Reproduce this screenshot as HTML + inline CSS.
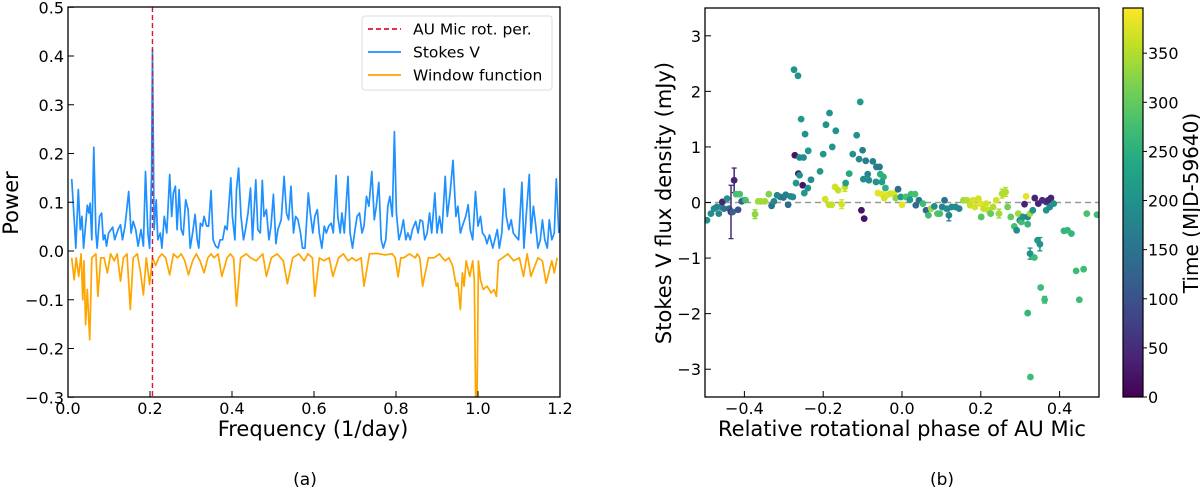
<!DOCTYPE html>
<html><head><meta charset="utf-8"><style>
body{margin:0;background:#fff;}
svg text{font-family:"DejaVu Sans","Liberation Sans",sans-serif;fill:#000;}
</style></head><body>
<svg id="fig" width="1200" height="490" viewBox="0 0 1200 490" xmlns="http://www.w3.org/2000/svg">
<defs>
<clipPath id="clipA"><rect x="68" y="7" width="492" height="390"/></clipPath>
<clipPath id="clipB"><rect x="705" y="8" width="394" height="389"/></clipPath>
<linearGradient id="viridis" x1="0" y1="1" x2="0" y2="0">
<stop offset="0" stop-color="#440154"/><stop offset="0.1" stop-color="#482475"/><stop offset="0.2" stop-color="#414487"/><stop offset="0.3" stop-color="#355f8d"/><stop offset="0.4" stop-color="#2a788e"/><stop offset="0.5" stop-color="#21918c"/><stop offset="0.6" stop-color="#22a884"/><stop offset="0.7" stop-color="#44bf70"/><stop offset="0.8" stop-color="#7ad151"/><stop offset="0.9" stop-color="#bddf26"/><stop offset="1" stop-color="#fde725"/>
</linearGradient>
</defs>
<g id="panelA"></g>
<g id="panelB"></g>
</svg>
<script>
// ---------- Panel (a) data ----------
const stokesFreq = [.009,.015,.019,.025,.030,.034,.038,.047,.051,.054,.058,.063,.068,.071,.077,.082,.086,.090,.094,.099,.109,.114,.122,.128,.133,.139,.148,.154,.159,.165,.171,.178,.184,.189,.195,.199,.204,.206,.210,.215,.219,.225,.229,.235,.241,.248,.253,.257,.262,.266,.271,.276,.281,.287,.293,.298,.304,.310,.315,.319,.323,.328,.332,.338,.343,.349,.354,.360,.366,.371,.377,.383,.388,.397,.401,.407,.411,.416,.422,.428,.433,.439,.445,.450,.458,.463,.469,.474,.478,.484,.490,.495,.501,.507,.512,.520,.527,.533,.538,.544,.550,.555,.561,.567,.572,.578,.586,.591,.597,.602,.608,.613,.619,.625,.630,.636,.642,.647,.654,.658,.664,.668,.674,.683,.688,.694,.700,.705,.711,.717,.722,.728,.734,.741,.747,.752,.758,.764,.769,.775,.780,.785,.791,.796,.801,.807,.812,.818,.824,.829,.835,.840,.848,.854,.859,.865,.870,.876,.882,.887,.895,.900,.906,.912,.920,.925,.932,.939,.946,.951,.957,.962,.970,.976,.981,.987,.994,1.000,1.006,1.011,1.017,1.022,1.028,1.036,1.041,1.047,1.052,1.058,1.064,1.069,1.075,1.081,1.086,1.092,1.099,1.107,1.112,1.118,1.125,1.129,1.135,1.141,1.146,1.152,1.157,1.163,1.169,1.174,1.180,1.186,1.191,1.197];
const stokesPower = [.148,.064,.006,.126,.044,.071,.006,.094,.078,.098,.023,.213,.037,.006,.071,.078,.023,.033,.010,.037,.049,.023,.044,.054,.023,.051,.122,.037,.061,.044,.010,.044,.010,.163,.037,.006,.160,.413,.044,.105,.023,.037,.006,.071,.037,.157,.071,.119,.133,.044,.126,.044,.033,.105,.085,.006,.037,.075,.023,.006,.057,.051,.071,.051,.051,.124,.023,.010,.006,.023,.023,.051,.044,.150,.071,.023,.126,.170,.071,.023,.044,.078,.129,.023,.146,.044,.037,.145,.071,.085,.023,.051,.116,.015,.044,.064,.153,.078,.064,.133,.037,.071,.064,.037,.006,.006,.119,.078,.037,.071,.085,.037,.006,.051,.037,.051,.057,.037,.155,.071,.037,.078,.037,.153,.037,.006,.044,.071,.078,.037,.051,.112,.092,.163,.064,.092,.141,.023,.006,.023,.092,.112,.071,.245,.078,.023,.037,.064,.023,.037,.023,.044,.061,.037,.064,.061,.023,.037,.078,.037,.119,.037,.071,.037,.153,.071,.119,.186,.071,.092,.037,.051,.071,.095,.044,.023,.122,.051,.071,.037,.030,.015,.033,.006,.023,.044,.006,.037,.128,.071,.044,.064,.037,.030,.023,.141,.006,.078,.157,.037,.092,.051,.006,.023,.064,.023,.006,.064,.023,.037,.148,.037];
const windowFreq = [.009,.015,.020,.026,.032,.036,.039,.043,.047,.053,.058,.068,.073,.080,.088,.096,.104,.113,.120,.128,.135,.144,.152,.159,.169,.177,.184,.191,.199,.206,.214,.221,.229,.238,.248,.257,.267,.276,.285,.294,.304,.313,.322,.332,.341,.349,.356,.366,.375,.388,.396,.404,.411,.421,.435,.445,.459,.475,.484,.496,.510,.525,.535,.548,.563,.576,.585,.596,.602,.613,.624,.637,.646,.660,.672,.683,.693,.703,.715,.722,.735,.754,.773,.791,.798,.805,.812,.819,.833,.847,.852,.858,.865,.879,.893,.906,.913,.920,.929,.938,.947,.951,.957,.962,.966,.971,.980,.987,.991,.996,1.001,1.006,1.013,1.022,1.032,1.039,1.045,1.050,1.060,1.073,1.087,1.101,1.111,1.120,1.129,1.146,1.157,1.166,1.180,1.186,1.193,1.197];
const windowPower = [-.014,-.059,-.014,-.052,-.006,-.100,-.020,-.151,-.079,-.182,-.014,-.006,-.093,-.014,-.014,-.045,-.006,-.020,-.006,-.062,-.014,-.006,-.120,-.014,-.006,-.045,-.090,-.014,-.069,-.014,-.030,-.014,-.006,-.014,-.049,-.006,-.014,-.006,-.020,-.049,-.020,-.006,-.020,-.045,-.014,-.006,-.014,-.006,-.052,-.014,-.006,-.014,-.113,-.014,-.006,-.014,-.020,-.006,-.052,-.014,-.006,-.020,-.067,-.014,-.006,-.020,-.006,-.014,-.093,-.014,-.020,-.014,-.052,-.014,-.006,-.020,-.014,-.020,-.014,-.072,-.006,-.005,-.008,-.006,-.014,-.053,-.014,-.014,-.006,-.014,-.006,-.014,-.072,-.014,-.014,-.006,-.014,-.020,-.014,-.030,-.072,-.066,-.120,-.045,-.072,-.020,-.052,-.020,-.059,-.440,-.020,-.059,-.079,-.072,-.086,-.079,-.093,-.020,-.014,-.006,-.020,-.014,-.052,-.006,-.052,-.014,-.020,-.066,-.020,-.045,-.014];
const rotFreq = 0.206;
const aXTicks = [0.0,0.2,0.4,0.6,0.8,1.0,1.2];
const aYTicks = [0.5,0.4,0.3,0.2,0.1,0.0,-0.1,-0.2,-0.3];
const aYTickLabels = ["0.5","0.4","0.3","0.2","0.1","0.0","\u22120.1","\u22120.2","\u22120.3"];

// ---------- Panel (b) data ----------
const phase = [-.495,-.485,-.477,-.470,-.465,-.459,-.456,-.452,-.444,-.439,-.434,-.426,-.430,-.416,-.421,-.412,-.402,-.407,-.397,-.373,-.365,-.358,-.348,-.338,-.331,-.325,-.317,-.309,-.301,-.295,-.289,-.283,-.277,
-.274,-.264,-.256,-.246,-.238,-.272,-.260,-.250,-.263,-.252,-.269,-.260,-.248,-.239,-.231,-.208,-.200,-.193,-.184,-.177,-.168,-.195,-.185,-.178,-.170,-.162,-.153,-.145,-.143,-.134,-.125,-.115,-.106,-.109,-.103,-.096,-.100,-.092,-.098,-.087,-.084,-.074,-.065,-.057,-.066,-.055,-.047,-.051,-.042,-.061,-.051,-.039,-.045,-.029,-.020,-.010,-.016,-.003,
.000,.010,.023,.033,.020,.035,.043,.053,.061,.067,.074,.082,.090,.096,.102,.108,.113,.119,.126,.136,.145,.156,.165,.173,.180,.185,.194,.199,.201,.207,.214,.219,.225,.231,.239,.246,.254,.263,.268,.276,.285,.291,.295,.299,.303,.307,.315,.311,.319,.325,.319,.325,.319,.326,.336,.344,.350,.352,.362,.337,.332,.346,.356,.366,.371,.378,.366,.375,.385,.411,.420,.430,.442,.450,.461,.469,.495];
const flux = [-.32,-.20,-.11,-.08,-.20,-.08,.01,-.11,.07,-.11,-.17,.40,-.17,-.13,.15,.15,.04,.02,.04,-.21,.02,.02,.02,.15,-.06,.02,.13,.10,.09,.14,-.04,.11,.10,
2.39,2.28,1.50,1.23,.93,.85,.81,.81,.52,.31,.35,.49,.17,.26,.41,.56,.87,1.40,1.61,1.00,1.29,.06,-.04,-.04,.28,.22,-.03,.28,.35,.52,.87,1.21,1.81,.78,-.14,-.29,.94,.75,.42,.51,.40,.74,.64,.64,.37,.51,.46,.37,.26,.17,.15,.13,.08,.16,.16,.24,.08,.10,
-.04,.10,.15,.15,.05,-.05,.04,-.02,-.14,-.23,-.11,-.07,-.20,-.20,-.08,.04,-.11,-.23,-.08,-.08,-.11,.04,.04,-.05,.04,-.08,.07,-.02,-.26,-.11,-.02,-.14,-.20,-.08,.04,-.20,.16,.19,-.08,-.26,-.43,-.50,-.20,-.32,-.35,-.26,.11,-.03,-.26,-.20,-.39,-.92,-1.99,-3.14,-.99,-.68,-.75,-1.53,-1.75,.08,-.14,-.02,.04,.01,.04,.08,-.14,-.08,-.02,-.51,-.50,-.56,-1.23,-1.75,-1.20,-.20,-.22];
const timeMJD = [200,190,190,180,180,190,40,150,200,140,50,40,120,100,280,280,280,130,280,330,340,340,340,320,150,180,180,180,150,170,140,180,190,
200,200,210,200,210,20,190,190,30,20,210,200,210,200,190,210,210,200,200,210,200,370,360,360,370,360,370,360,220,240,200,200,210,190,20,20,170,170,190,180,190,170,170,160,200,250,250,220,250,380,380,380,370,370,375,140,330,220,
380,280,270,280,220,140,150,270,130,270,340,190,290,280,180,150,190,180,190,190,180,340,350,360,370,370,370,380,290,360,370,360,300,350,370,340,350,350,310,300,280,190,340,190,270,200,380,40,180,340,260,200,260,270,270,210,200,270,270,40,200,40,50,60,40,40,200,190,200,260,260,260,270,270,270,280,270];
const fluxErr = [.05,.05,.05,.05,.05,.05,.05,.05,.05,.05,.48,.22,.05,.05,.05,.05,.05,.05,.05,.08,.05,.05,.05,.05,.05,.05,.05,.05,.05,.05,.05,.05,.05,
.05,.05,.05,.05,.05,.05,.05,.05,.05,.05,.05,.05,.05,.05,.05,.05,.05,.05,.05,.05,.05,.05,.05,.05,.05,.05,.08,.08,.05,.05,.05,.05,.05,.05,.05,.05,.05,.05,.05,.05,.05,.05,.05,.05,.05,.05,.05,.05,.05,.05,.05,.05,.05,.05,.05,.05,.05,.05,
.05,.05,.05,.05,.05,.05,.05,.05,.05,.05,.05,.05,.05,.05,.05,.05,.05,.10,.05,.05,.05,.05,.05,.05,.05,.05,.05,.05,.05,.05,.05,.05,.05,.05,.05,.08,.08,.08,.05,.05,.05,.05,.05,.05,.05,.05,.05,.05,.05,.05,.05,.10,.05,.05,.05,.05,.12,.05,.06,.05,.05,.05,.05,.05,.05,.05,.05,.05,.05,.05,.05,.05,.05,.05,.05,.05,.05];
const bXTicks = [-0.4,-0.2,0.0,0.2,0.4];
const bXTickLabels = ["\u22120.4","\u22120.2","0.0","0.2","0.4"];
const bYTicks = [3,2,1,0,-1,-2,-3];
const bYTickLabels = ["3","2","1","0","\u22121","\u22122","\u22123"];
const cbTicks = [0,50,100,150,200,250,300,350];
const timeMax = 396;

const NS = "http://www.w3.org/2000/svg";
function mk(tag, attrs, parent){const e=document.createElementNS(NS,tag);for(const k in attrs)e.setAttribute(k,attrs[k]);parent.appendChild(e);return e;}

// ---------- Panel (a) ----------
const A = document.getElementById('panelA');
const ax = f => 68 + f/1.2*492;
const ay = p => 251 - p*(390/0.8);
let d='';
stokesFreq.forEach((f,i)=>{d+=(i?'L':'M')+ax(f).toFixed(1)+','+ay(stokesPower[i]).toFixed(1);});
let gA = mk('g',{'clip-path':'url(#clipA)'},A);
let wd='';
windowFreq.forEach((f,i)=>{wd+=(i?'L':'M')+ax(f).toFixed(1)+','+ay(windowPower[i]).toFixed(1);});
let wl = mk('path',{d:wd,fill:'none',stroke:'#ffa500','stroke-width':1.7,'stroke-linejoin':'round'},gA);


let sl = mk('path',{d:d,fill:'none',stroke:'#1e90ff','stroke-width':1.7,'stroke-linejoin':'round'},gA);


let rl = mk('line',{x1:ax(rotFreq),x2:ax(rotFreq),y1:7,y2:397,stroke:'#dc143c','stroke-width':1.4,'stroke-dasharray':'5,3'},gA);


let fA = mk('rect',{x:68,y:7,width:492,height:390,fill:'none',stroke:'#000','stroke-width':1.3},A);


aXTicks.forEach(t=>{
  mk('line',{x1:ax(t),x2:ax(t),y1:397,y2:391,stroke:'#000','stroke-width':1},A);
  const tx = mk('text',{x:ax(t),y:414,'font-size':16,'text-anchor':'middle'},A);
  tx.textContent = t.toFixed(1);
  
  
});
aYTicks.forEach((t,i)=>{
  mk('line',{x1:68,x2:74,y1:ay(t),y2:ay(t),stroke:'#000','stroke-width':1},A);
  const tx = mk('text',{x:64,y:ay(t)+6,'font-size':16,'text-anchor':'end'},A);
  tx.textContent = aYTickLabels[i];
  
  
});
</script>
<script>
(function(){
const A = document.getElementById('panelA');
let t = mk('text',{x:313,y:436,'font-size':21,'text-anchor':'middle'},A); t.textContent='Frequency (1/day)';


t = mk('text',{x:0,y:0,'font-size':21,'text-anchor':'middle',transform:'translate(18,203) rotate(-90)'},A); t.textContent='Power';


t = mk('text',{x:305,y:485,'font-size':17,'text-anchor':'middle'},A); t.textContent='(a)';


// legend
const L = mk('g',{},A);


mk('rect',{x:362,y:16,width:190,height:74,rx:3,fill:'#fff',stroke:'#ddd','stroke-width':1},L);
const ent=[['AU Mic rot. per.','#dc143c','5,3'],['Stokes V','#1e90ff',''],['Window function','#ffa500','']];
ent.forEach((e,i)=>{
  const g = mk('g',{},L);
  
  
  const y = 29+i*23;
  const a={x1:368,x2:401,y1:y,y2:y,stroke:e[1],'stroke-width':1.8}; if(e[2])a['stroke-dasharray']=e[2];
  mk('line',a,g);
  const tx=mk('text',{x:413,y:y+5.5,'font-size':15.5},g); tx.textContent=e[0];
});

// ---------- Panel (b) ----------
const B = document.getElementById('panelB');
const bx = p => 705 + (p+0.5)*394;
const by = v => 202.5 - v*(389/7);
function vir(tm){
  const c=[[68,1,84],[72,36,117],[65,68,135],[53,95,141],[42,120,142],[33,145,140],[34,168,132],[68,191,112],[122,209,81],[189,223,38],[253,231,37]];
  let u=Math.max(0,Math.min(1,tm/timeMax))*10; const i=Math.min(9,Math.floor(u)); const f=u-i;
  const r=c[i].map((v,k)=>Math.round(v+(c[i+1][k]-v)*f)); return 'rgb('+r.join(',')+')';
}
const gB = mk('g',{'clip-path':'url(#clipB)'},B);
const zl = mk('line',{x1:705,x2:1099,y1:by(0),y2:by(0),stroke:'#999','stroke-width':1.6,'stroke-dasharray':'6,4'},gB);


phase.forEach((p,i)=>{
  const col = vir(timeMJD[i]);
  const g = mk('g',{},gB);
  
  
  mk('line',{x1:bx(p),x2:bx(p),y1:by(flux[i]+fluxErr[i]),y2:by(flux[i]-fluxErr[i]),stroke:col,'stroke-width':1.5},g);
  if(fluxErr[i]>0.05){
    mk('line',{x1:bx(p)-2.5,x2:bx(p)+2.5,y1:by(flux[i]+fluxErr[i]),y2:by(flux[i]+fluxErr[i]),stroke:col,'stroke-width':1.3},g);
    mk('line',{x1:bx(p)-2.5,x2:bx(p)+2.5,y1:by(flux[i]-fluxErr[i]),y2:by(flux[i]-fluxErr[i]),stroke:col,'stroke-width':1.3},g);
  }
  mk('circle',{cx:bx(p),cy:by(flux[i]),r:3.4,fill:col},g);
});
const fB = mk('rect',{x:705,y:8,width:394,height:389,fill:'none',stroke:'#000','stroke-width':1.3},B);


bXTicks.forEach((tk,i)=>{
  mk('line',{x1:bx(tk),x2:bx(tk),y1:397,y2:391,stroke:'#000','stroke-width':1},B);
  const tx=mk('text',{x:bx(tk),y:414,'font-size':16,'text-anchor':'middle'},B); tx.textContent=bXTickLabels[i];
  
  
});
bYTicks.forEach((tk,i)=>{
  mk('line',{x1:705,x2:711,y1:by(tk),y2:by(tk),stroke:'#000','stroke-width':1},B);
  const tx=mk('text',{x:701,y:by(tk)+6,'font-size':16,'text-anchor':'end'},B); tx.textContent=bYTickLabels[i];
  
  
});
t = mk('text',{x:902,y:436,'font-size':21,'text-anchor':'middle'},B); t.textContent='Relative rotational phase of AU Mic';


t = mk('text',{x:0,y:0,'font-size':21,'text-anchor':'middle',transform:'translate(671,203) rotate(-90)'},B); t.textContent='Stokes V flux density (mJy)';


t = mk('text',{x:942,y:485,'font-size':17,'text-anchor':'middle'},B); t.textContent='(b)';


// colorbar
const cb = mk('g',{},B);


const cy = v => 397 - v/timeMax*389;
mk('rect',{x:1123,y:8,width:20,height:389,fill:'url(#viridis)',stroke:'#000','stroke-width':1.2},cb);
cbTicks.forEach(tk=>{
  mk('line',{x1:1143,x2:1147,y1:cy(tk),y2:cy(tk),stroke:'#000','stroke-width':1},cb);
  const tx=mk('text',{x:1148,y:cy(tk)+6,'font-size':16},cb); tx.textContent=String(tk);
  
  
});
t = mk('text',{x:0,y:0,'font-size':20,'text-anchor':'middle',transform:'translate(1198,203) rotate(-90)'},cb); t.textContent='Time (MJD-59640)';


})();
</script>
</body></html>
